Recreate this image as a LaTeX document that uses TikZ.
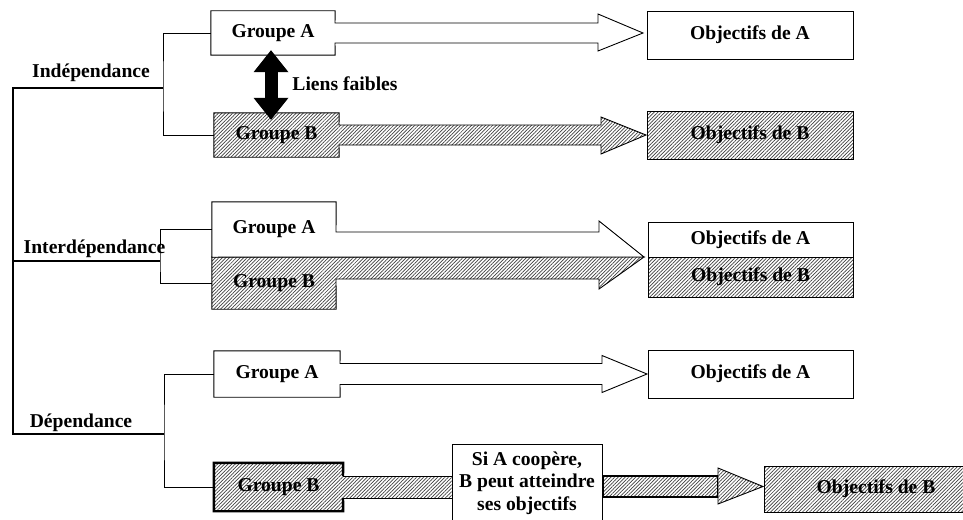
\documentclass[tikz,border=0pt]{standalone}
\usepackage{fontspec}
\setmainfont{Liberation Serif}
\usetikzlibrary{calc,arrows.meta,patterns.meta}
\pgfdeclarelayer{fond}
\pgfsetlayers{fond,main}
\tikzset{
    trait/.style={line width=0.9pt},
    epais/.style={line width=2.4pt},
    tronc/.style={line width=2.6pt},
    txt/.style={inner sep=0pt,align=center,font=\bfseries\fontsize{19.6}{22.5}\selectfont},
    grp/.style={txt,minimum width=124pt,minimum height=44pt},
    obj/.style={txt,draw,trait,fill=white,minimum width=206pt,minimum height=48pt},
    hach/.style={preaction={fill=white},pattern={Lines[angle=45,distance=2.5pt,line width=0.7pt]},pattern color=black!75},
    blanc/.style={fill=white,draw,trait},
    raye/.style={hach,draw,trait},
    liens/.style={line width=13pt,{Triangle[width=35pt,length=22pt,line width=0pt]}-{Triangle[width=35pt,length=22pt,line width=0pt]}}
}

\begin{document}
\begin{tikzpicture}[x=1pt,y=-1pt]
      \useasboundingbox (0,0) rectangle (963,519);

      % Indépendance
      \node[grp] (gA1) at (273,33) {Groupe A};
      \node[grp,minimum width=125pt] (gB1) at (276.5,135) {Groupe B};
      \node[obj] (oA1) at (750,35) {Objectifs de A};
      \node[obj,hach] (oB1) at (750,135) {Objectifs de B};

      % Interdépendance
      \node[grp,minimum height=55pt] (gA2) at (274,229.5) {Groupe A};
      \node[grp,minimum height=52pt] (gB2) at (274,283) {Groupe B};
      \node[obj,minimum width=205pt,minimum height=35pt] (oA2) at (750.5,239.5) {Objectifs de A};
      \node[obj,hach,minimum width=205pt,minimum height=40pt] (oB2) at (750.5,277) {Objectifs de B};

      % Dépendance
      \node[grp,minimum width=126pt,minimum height=46pt] (gA3) at (277,374) {Groupe A};
      \node[grp,minimum width=129pt,minimum height=48pt] (gB3) at (278.5,487) {Groupe B};
      \node[obj,minimum width=205pt] (oA3) at (750.5,374) {Objectifs de A};
      \node[txt,draw,trait,fill=white,minimum width=150pt,minimum height=78pt] (si) at (527,483)
            {Si A coopère,\\B peut atteindre\\ses objectifs};
      \node[obj,hach,minimum width=224pt,minimum height=46pt] (oB3) at (876,489) {Objectifs de B};

      \begin{pgfonlayer}{fond}
        \filldraw[blanc] (gA1.north west) -- (gA1.north east) -- (335,23) -- (598,23) -- (598,14) -- (643,33)
              -- (598,51) -- (598,43) -- (335,43) -- (gA1.south east) -- (gA1.south west) -- cycle;
        \filldraw[raye] (gB1.north west) -- (gB1.north east) -- (339,125) -- (601,125) -- (601,117) -- (646,135)
              -- (601,154) -- (601,145) -- (339,145) -- (gB1.south east) -- (gB1.south west) -- cycle;

        \filldraw[raye] (gB2.north west) -- (644,257) -- (599,289) -- (599,279) -- (336,279)
              -- (gB2.south east) -- (gB2.south west) -- cycle;
        \filldraw[blanc] (gA2.south west) -- (gA2.north west) -- (gA2.north east) -- (336,232) -- (599,232)
              -- (599,221) -- (644,257) -- cycle;

        \filldraw[blanc] (gA3.north west) -- (gA3.north east) -- (340,363.5) -- (602,363.5) -- (602,355.5) -- (647,374)
              -- (602,392.5) -- (602,384.5) -- (340,384.5) -- (gA3.south east) -- (gA3.south west) -- cycle;

        \fill[hach] (gB3.north west) -- (gB3.north east) -- (343,476) -- (si.west |- 0,476) -- (si.west |- 0,498)
              -- (343,498) -- (gB3.south east) -- (gB3.south west) -- cycle;
        \draw[epais] (343,476) -- (gB3.north east) -- (gB3.north west) -- (gB3.south west) -- (gB3.south east) -- (343,498);
        \draw[trait] (343,476) -- (si.west |- 0,476) (343,498) -- (si.west |- 0,498);
        \filldraw[hach,draw,epais] (si.east |- 0,476) rectangle (718,497);
        \filldraw[raye] (718,468) -- (763,486.5) -- (718,504) -- cycle;
      \end{pgfonlayer}

      % liens faibles
      \draw[liens] ($(gA1.south)+(-2,-5)$) -- ($(gB1.north)+(-5.5,7)$);
      \node[txt] (lf) at (345,84) {Liens faibles};

      % branches
      \coordinate (b1) at (163,88);
      \coordinate (b2) at (160,261);
      \coordinate (b3) at (164,434);
      \draw[trait] (gA1.west) -| (b1) |- (gB1.west);
      \draw[trait] (gA2.west) -| (b2) |- (gB2.west);
      \draw[trait] (gA3.west) -| (b3) |- (gB3.west);
      \draw[tronc] (b1) -- (13,88) -- (13,434) -- (b3);
      \draw[tronc] (13,261) -- (b2);

      \node[txt] (ind) at (91,73) {Indépendance};
      \node[txt] (int) at (94.5,249) {Interdépendance};
      \node[txt] (dep) at (81,423) {Dépendance};
    \end{tikzpicture}
\end{document}
